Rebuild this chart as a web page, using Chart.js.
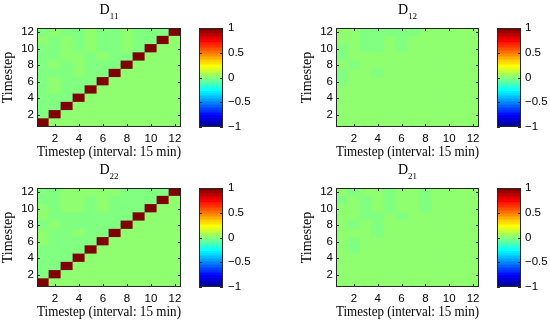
<!DOCTYPE html>
<html><head><meta charset="utf-8">
<script src="https://cdn.jsdelivr.net/npm/chart.js@4.4.1/dist/chart.umd.min.js"></script>
<style>
html,body{margin:0;padding:0;background:#fff;}
#wrap{position:relative;width:550px;height:321px;overflow:hidden;background:#fff;}
#wrap canvas{position:absolute;}
</style></head><body><div id="wrap"></div>
<script>
// ---- data ----
const timesteps = ['1','2','3','4','5','6','7','8','9','10','11','12'];
const xTickLabels = ['2','4','6','8','10','12'];
const yTicks = [2,4,6,8,10,12];
const cbTicks = [-1,-0.5,0,0.5,1];
const cbRange = [-1, 1];
const xTitle = 'Timestep (interval: 15 min)';
const yTitle = 'Timestep';
const titlesMain = ['D','D','D','D'];
const titlesSub = ['11','12','22','21'];

// matrices: row index 0 = timestep 1 (bottom), column index 0 = timestep 1 (left)
const D11 = [
 [ 1,    0,    0,    0,    0,    0,    0,    0,    0,    0,    0,    0],
 [-0.02, 1,    0,    0,    0,    0,    0,    0,    0,    0,    0,    0],
 [-0.02,-0.02, 1,    0,    0,    0,    0,    0,    0,    0,    0,    0],
 [-0.02,-0.02,-0.02, 1,    0,    0,    0,    0,    0,    0,    0,    0],
 [-0.02, 0.01,-0.02,-0.02, 1,    0,    0,    0,    0,    0,    0,    0],
 [-0.02, 0.01,-0.02,-0.02,-0.02, 1,    0,    0,    0,    0,    0,    0],
 [-0.02,-0.02,-0.02, 0.01,-0.02,-0.02, 1,    0,    0,    0,    0,    0],
 [-0.02, 0.01,-0.02, 0.01,-0.02,-0.02,-0.02, 1,    0,    0,    0,    0],
 [-0.02,-0.02, 0.01, 0.01,-0.02, 0.01,-0.02,-0.02, 1,    0,    0,    0],
 [-0.02,-0.02, 0.01,-0.02, 0.01,-0.02,-0.02, 0.01,-0.02, 1,    0,    0],
 [ 0.01,-0.02, 0.01,-0.02, 0.01,-0.02,-0.02, 0.01,-0.02,-0.02, 1,    0],
 [-0.02, 0.01,-0.02,-0.02, 0.01,-0.02,-0.02, 0.01,-0.02,-0.02,-0.02, 1]
];
const D12 = [
 [ 0,    0,    0,    0,    0,    0,    0,    0,    0,    0,    0,    0],
 [ 0,    0,    0,    0,    0,    0,    0,    0,    0,    0,    0,    0],
 [ 0,    0,    0,    0,    0,    0,    0,    0,    0,    0,    0,    0],
 [ 0,    0,    0,    0,    0,    0,    0,    0,    0,    0,    0,    0],
 [ 0,    0,    0,    0,    0,    0,    0,    0,    0,    0,    0,    0],
 [-0.02, 0,    0,    0,    0,    0,    0,    0,    0,    0,    0,    0],
 [-0.02, 0,    0,   -0.02, 0,    0,    0,    0,    0,    0,    0,    0],
 [ 0,   -0.02, 0,    0,    0,    0,    0,    0,    0,    0,    0,    0],
 [-0.02, 0,    0,    0,    0,    0,    0,    0,    0,    0,    0,    0],
 [-0.02, 0,   -0.02,-0.02, 0,   -0.02, 0,    0,    0,    0,    0,    0],
 [ 0,    0,   -0.02,-0.02, 0,   -0.02, 0,    0,    0,    0,    0,    0],
 [ 0,    0,   -0.02,-0.02,-0.02,-0.02,-0.02, 0,    0,    0,    0,    0]
];
const D22 = [
 [ 1,    0,    0,    0,    0,    0,    0,    0,    0,    0,    0,    0],
 [-0.02, 1,    0,    0,    0,    0,    0,    0,    0,    0,    0,    0],
 [-0.02,-0.02, 1,    0,    0,    0,    0,    0,    0,    0,    0,    0],
 [-0.02,-0.02,-0.02, 1,    0,    0,    0,    0,    0,    0,    0,    0],
 [-0.02,-0.02,-0.02,-0.02, 1,    0,    0,    0,    0,    0,    0,    0],
 [ 0.01,-0.02,-0.02,-0.02,-0.02, 1,    0,    0,    0,    0,    0,    0],
 [ 0.01,-0.02,-0.02, 0.01,-0.02,-0.02, 1,    0,    0,    0,    0,    0],
 [-0.02, 0.01,-0.02,-0.02,-0.02,-0.02,-0.02, 1,    0,    0,    0,    0],
 [ 0.01,-0.02,-0.02,-0.02,-0.02,-0.02,-0.02,-0.02, 1,    0,    0,    0],
 [ 0.01,-0.02, 0.01, 0.01,-0.02, 0.01,-0.02,-0.02,-0.02, 1,    0,    0],
 [-0.02,-0.02, 0.01, 0.01,-0.02, 0.01,-0.02,-0.02,-0.02,-0.02, 1,    0],
 [-0.02,-0.02, 0.01, 0.01, 0.01, 0.01, 0.01,-0.02,-0.02,-0.02,-0.02, 1]
];
const D21 = [
 [ 0,    0,    0,    0,    0,    0,    0,    0,    0,    0,    0,    0],
 [ 0,    0,    0,    0,    0,    0,    0,    0,    0,    0,    0,    0],
 [ 0,    0,    0,    0,    0,    0,    0,    0,    0,    0,    0,    0],
 [ 0,    0,    0,    0,    0,    0,    0,    0,    0,    0,    0,    0],
 [ 0,   -0.02, 0,    0,    0,    0,    0,    0,    0,    0,    0,    0],
 [ 0,   -0.02, 0,    0,    0,    0,    0,    0,    0,    0,    0,    0],
 [ 0,    0,    0,   -0.02, 0,    0,    0,    0,    0,    0,    0,    0],
 [ 0,   -0.02, 0,   -0.02, 0,    0,    0,    0,    0,    0,    0,    0],
 [ 0,    0,   -0.02,-0.02, 0,   -0.02, 0,    0,    0,    0,    0,    0],
 [ 0,    0,   -0.02, 0,   -0.02, 0,    0,   -0.02, 0,    0,    0,    0],
 [-0.02, 0,   -0.02, 0,   -0.02, 0,    0,   -0.02, 0,    0,    0,    0],
 [ 0,   -0.02, 0,    0,   -0.02, 0,    0,   -0.02, 0,    0,    0,    0]
];

// ---- styling / helpers ----
const SERIF = '"Liberation Serif", "Times New Roman", serif';
const SANS = '"Liberation Sans", Arial, sans-serif';
const TICKFONT = {family: SANS, size: 11.5};
const AXCOLOR = '#262626';

function jetRGB(v) {  // MATLAB jet(64) with caxis [-1 1]
  const n = 64;
  let k = Math.floor((v - cbRange[0]) / (cbRange[1] - cbRange[0]) * n) + 1;
  k = Math.max(1, Math.min(n, k));
  const u = i => (i < 1 || i > 47) ? 0 : (i <= 16 ? i / 16 : (i <= 32 ? 1 : (48 - i) / 16));
  return [u(k - 24), u(k - 8), u(k + 8)].map(c => Math.round(c * 255));
}
const jetColor = v => 'rgb(' + jetRGB(v).join(',') + ')';
const fmtTick = v => (v < 0 ? '\u2212' + Math.abs(v) : String(v));

// box + inward tick marks (MATLAB style)
const boxTicks = {
  id: 'boxTicks',
  afterDatasetsDraw(chart, args, opts) {
    const {ctx, chartArea: a} = chart;
    const len = 3;
    ctx.save();
    ctx.strokeStyle = AXCOLOR;
    ctx.lineWidth = 1;
    ctx.beginPath();
    if (opts.xTicks) {
      const xs = chart.scales.x;
      xs.ticks.forEach(t => {
        const px = Math.round(xs.getPixelForValue(t.value)) + 0.5;
        ctx.moveTo(px, a.bottom); ctx.lineTo(px, a.bottom - len);
        ctx.moveTo(px, a.top); ctx.lineTo(px, a.top + len);
      });
    }
    const ys = chart.scales.y;
    const yVals = opts.yValues || ys.ticks.map(t => t.value);
    yVals.forEach(v => {
      const py = Math.round(ys.getPixelForValue(v)) + 0.5;
      ctx.moveTo(a.left, py); ctx.lineTo(a.left + len, py);
      ctx.moveTo(a.right, py); ctx.lineTo(a.right - len, py);
    });
    ctx.stroke();
    ctx.strokeRect(Math.round(a.left) + 0.5, Math.round(a.top) + 0.5,
                   Math.round(a.right - a.left) - 1, Math.round(a.bottom - a.top) - 1);
    ctx.restore();
  }
};

// left-aligned colour-bar tick labels placed with the bar's y scale
const cbLabels = {
  id: 'cbLabels',
  afterDraw(chart, args, opts) {
    const {ctx, chartArea: a} = chart;
    const ys = chart.scales.y;
    ctx.save();
    ctx.fillStyle = '#000';
    ctx.font = TICKFONT.size + 'px ' + TICKFONT.family;
    ctx.textAlign = 'left';
    ctx.textBaseline = 'middle';
    cbTicks.forEach(v => ctx.fillText(fmtTick(v), a.right + opts.gap, ys.getPixelForValue(v)));
    ctx.restore();
  }
};

const subTitle = {
  id: 'subTitle',
  afterDraw(chart, args, opts) {
    if (!opts.main) return;
    const {ctx, chartArea: a} = chart;
    ctx.save();
    ctx.fillStyle = '#000';
    ctx.textBaseline = 'alphabetic';
    ctx.textAlign = 'left';
    ctx.font = '14px ' + SERIF;
    const w1 = ctx.measureText(opts.main).width;
    ctx.font = '9px ' + SERIF;
    const w2 = ctx.measureText(opts.sub).width;
    const x0 = (a.left + a.right) / 2 - (w1 + w2) / 2;
    ctx.font = '14px ' + SERIF;
    ctx.fillText(opts.main, x0, a.top - 14);
    ctx.font = '9px ' + SERIF;
    ctx.fillText(opts.sub, x0 + w1, a.top - 9.5);
    ctx.restore();
  }
};

const wrap = document.getElementById('wrap');
function makeCanvas(left, top, w, h) {
  const c = document.createElement('canvas');
  c.style.left = left + 'px'; c.style.top = top + 'px';
  c.style.width = w + 'px'; c.style.height = h + 'px';
  c.width = w; c.height = h;
  wrap.appendChild(c);
  return c;
}
const common = {
  responsive: false, animation: false, events: [],
  devicePixelRatio: 1,
};

function heatmap(matrix, main, sub, left, top, padRight) {
  const cv = makeCanvas(left, top, 190, 161);
  const datasets = matrix.map((row, r) => ({
    data: timesteps.map(() => [r + 0.5, r + 1.5]),
    backgroundColor: row.map(jetColor),
    borderWidth: 0,
    barPercentage: 1,
    categoryPercentage: 1,
    inflateAmount: 0.4
  }));
  return new Chart(cv, {
    type: 'bar',
    data: {labels: timesteps, datasets},
    plugins: [boxTicks, subTitle],
    options: Object.assign({}, common, {
      layout: {padding: {top: 28, left: 0, right: padRight, bottom: 0}},
      plugins: {legend: {display: false}, tooltip: {enabled: false},
                boxTicks: {xTicks: true}, subTitle: {main, sub}},
      scales: {
        x: {
          type: 'category', offset: true, stacked: true,
          grid: {display: false, drawTicks: false}, border: {display: false},
          afterBuildTicks: s => { s.ticks = xTickLabels.map(l => ({value: timesteps.indexOf(l)})); },
          ticks: {font: TICKFONT, color: '#000', padding: 5, autoSkip: false, maxRotation: 0},
          title: {display: true, text: xTitle, color: '#000', font: {family: SERIF, size: 14}, padding: 0},
          afterFit: s => { s.height = 34; }
        },
        y: {
          type: 'linear', min: 0.5, max: 12.5,
          grid: {display: false, drawTicks: false}, border: {display: false},
          afterBuildTicks: s => { s.ticks = yTicks.map(v => ({value: v})); },
          ticks: {font: TICKFONT, color: '#000', padding: 3},
          title: {display: true, text: yTitle, color: '#000', font: {family: SERIF, size: 14}, padding: 0},
          afterFit: s => { s.width = 37; }
        }
      }
    })
  });
}

function colorbar(left, top, w, gap) {
  const cv = makeCanvas(left, top, w, 160);
  return new Chart(cv, {
    type: 'bar',
    data: {labels: [''], datasets: [{
      data: [cbRange.slice()],
      backgroundColor: ctx => {
        const a = ctx.chart.chartArea;
        if (!a) return null;
        const g = ctx.chart.ctx.createLinearGradient(0, a.bottom, 0, a.top);
        for (let k = 0; k < 64; k++) {
          const v = cbRange[0] + (k + 0.5) / 64 * (cbRange[1] - cbRange[0]);
          const col = jetColor(v);
          g.addColorStop(k / 64, col);
          g.addColorStop((k + 1) / 64, col);
        }
        return g;
      },
      borderWidth: 0, barPercentage: 1, categoryPercentage: 1
    }]},
    plugins: [boxTicks, cbLabels],
    options: Object.assign({}, common, {
      layout: {padding: {top: 28, left: 9, right: w - 33, bottom: 33}},
      plugins: {legend: {display: false}, tooltip: {enabled: false},
                boxTicks: {xTicks: false, yValues: cbTicks}, cbLabels: {gap}},
      scales: {
        x: {display: false, offset: true},
        y: {type: 'linear', position: 'right', min: cbRange[0], max: cbRange[1], display: false}
      }
    })
  });
}

heatmap(D11, titlesMain[0], titlesSub[0], 0, 0, 9);
heatmap(D12, titlesMain[1], titlesSub[1], 299, 0, 10);
heatmap(D22, titlesMain[2], titlesSub[2], 0, 160, 9);
heatmap(D21, titlesMain[3], titlesSub[3], 299, 160, 10);
colorbar(190, 0, 85, 5);
colorbar(488, 0, 62, 4);
colorbar(190, 160, 85, 5);
colorbar(488, 160, 62, 4);
</script></body></html>
